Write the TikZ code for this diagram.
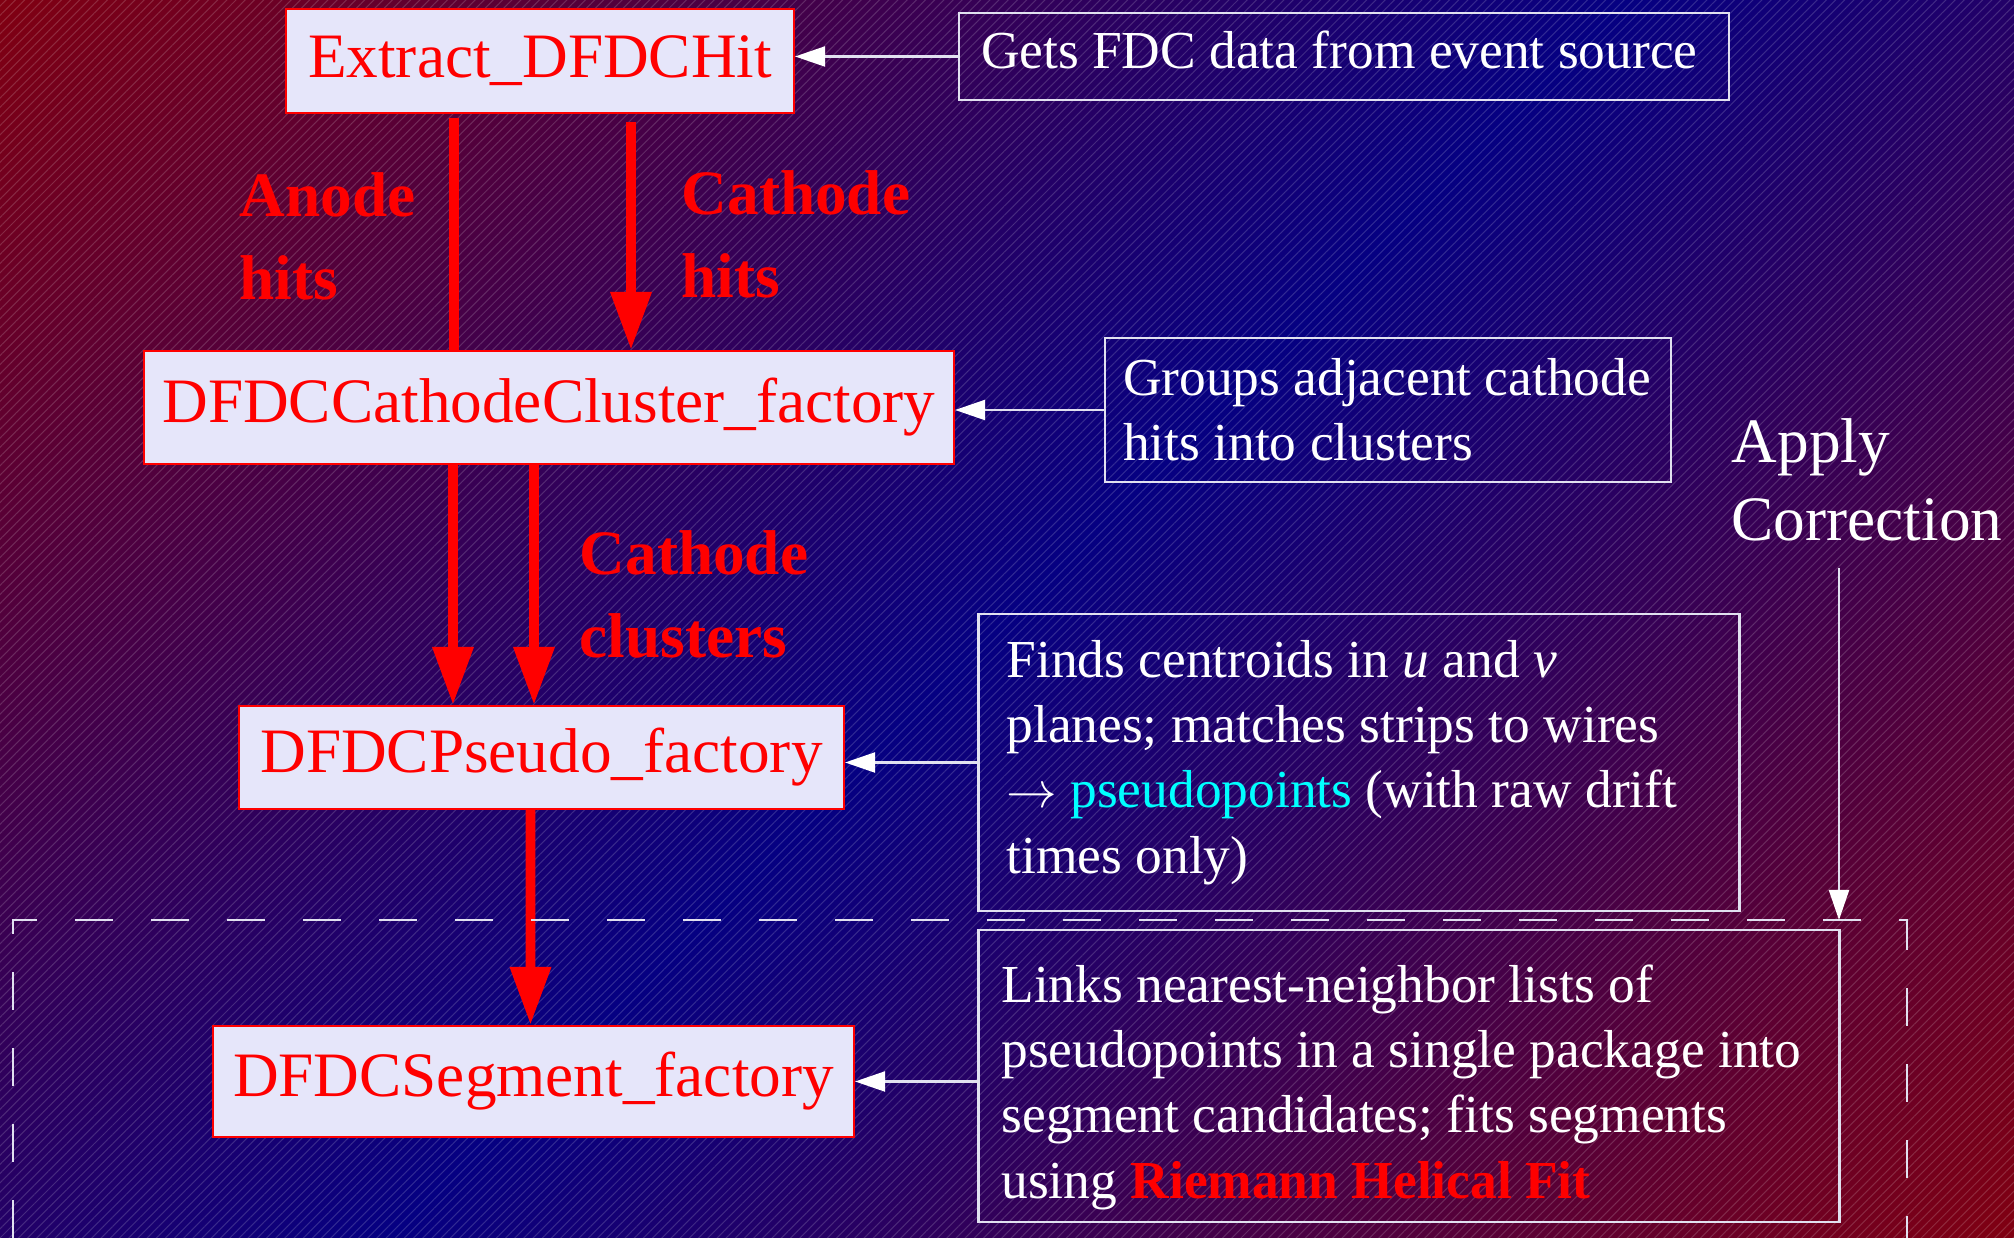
\documentclass[tikz,border=0pt]{standalone}
\usepackage{fontspec}
\setmainfont{Liberation Serif}
\usetikzlibrary{positioning,arrows.meta,patterns.meta}
\definecolor{bgred}{RGB}{128,0,18}
\definecolor{bgblue}{RGB}{5,0,130}
\definecolor{boxfill}{RGB}{230,230,250}
\definecolor{notegray}{RGB}{225,225,240}
\definecolor{pseudocyan}{RGB}{0,255,255}
\pgfdeclarehorizontalshading{bgshade}{100bp}{color(0bp)=(bgred); color(14.6bp)=(bgred);
    color(50bp)=(bgblue); color(85.4bp)=(bgred); color(100bp)=(bgred)}

\begin{document}
\begin{tikzpicture}[
    factory/.style={draw=red,line width=0.6pt,fill=boxfill,text=red,
        font=\fontsize{18}{22}\selectfont,inner sep=0pt},
    note/.style={draw=notegray,line width=0.6pt,text=white,align=flush left,
        font=\fontsize{15.2}{18.6}\selectfont,inner ysep=0pt},
    flowlabel/.style={text=red,font=\bfseries\fontsize{18}{23.6}\selectfont,
        align=left,inner sep=0pt,anchor=north west},
    hitarrow/.style={red,line width=2.8pt,-{Triangle[width=0.39cm,length=0.58cm]}},
    notearrow/.style={notegray,line width=0.6pt,
        -{Triangle[width=0.2cm,length=0.3cm,color=white]}}]
    % fundo
    \useasboundingbox (0,0) rectangle (20.14,12.38);
    \shade[shading=bgshade,shading angle=-45] (0,0) rectangle (20.14,12.38);
    \fill[pattern={Lines[angle=45,distance=0.065cm,line width=0.3pt]},
        pattern color=white,opacity=0.16] (0,0) rectangle (20.14,12.38);
    % factories
    \node[factory,minimum width=5.08cm,minimum height=1.04cm] (extract)
        at (5.40,11.77) {Extract\_DFDCHit};
    \node[factory,minimum width=8.10cm,minimum height=1.13cm] (cluster)
        at (5.49,8.305) {DFDCCathodeCluster\_factory};
    \node[factory,minimum width=6.05cm,minimum height=1.03cm] (pseudo)
        at (5.415,4.805) {DFDCPseudo\_factory};
    \node[factory,minimum width=6.41cm,minimum height=1.11cm] (segment)
        at (5.335,1.565) {DFDCSegment\_factory};
    % notas
    \node[note,text width=7.26cm,inner xsep=0.22cm,minimum height=0.87cm,
        text depth=0.13cm] (gets)
        at (13.44,11.815) {Gets FDC data from event source};
    \node[note,text width=5.30cm,inner xsep=0.18cm,minimum height=1.44cm] (groups)
        at (13.88,8.28) {Groups adjacent cathode\\hits into clusters};
    \node[note,text width=7.05cm,inner xsep=0.28cm,minimum height=2.97cm] (finds)
        at (13.59,4.755) {Finds centroids in \textit{u} and \textit{v}\\
        planes; matches strips to wires\\
        $\rightarrow$ \textcolor{pseudocyan}{pseudopoints} (with raw drift\\
        times only)};
    \node[note,text width=8.15cm,inner xsep=0.23cm,minimum height=2.92cm] (links)
        at (14.09,1.62) {\rule{0pt}{0.6cm}Links nearest-neighbor lists of\\
        pseudopoints in a single package into\\
        segment candidates; fits segments\\
        using \textcolor{red}{\textbf{Riemann Helical Fit}}};
    % rotulos
    \node[flowlabel] (anode) at (2.39,10.66) {Anode\\hits};
    \node[flowlabel] (cathhits) at (6.81,10.68) {Cathode\\hits};
    \node[flowlabel] (cathclus) at (5.79,7.08) {Cathode\\clusters};
    \node[text=white,font=\fontsize{18}{22.2}\selectfont,align=left,inner sep=0pt,
        anchor=north west] (apply) at (17.31,8.20) {Apply\\Correction};
    % setas vermelhas
    \draw[red,line width=2.8pt,shorten <=0.04cm] ([xshift=-0.86cm]extract.south)
        -- ([xshift=-0.95cm]cluster.north);
    \draw[hitarrow,shorten <=0.08cm] ([xshift=0.91cm]extract.south)
        -- ([xshift=0.82cm]cluster.north);
    \draw[hitarrow] ([xshift=-0.96cm]cluster.south) -- ([xshift=-0.885cm]pseudo.north);
    \draw[hitarrow] ([xshift=-0.15cm]cluster.south) -- ([xshift=-0.075cm]pseudo.north);
    \draw[hitarrow] ([xshift=-0.11cm]pseudo.south) -- ([xshift=-0.03cm]segment.north);
    % setas das notas
    \draw[notearrow] (gets.west) -- (gets.west -| extract.east);
    \draw[notearrow] (groups.west) -- (groups.west -| cluster.east);
    \draw[notearrow] (finds.west) -- (finds.west -| pseudo.east);
    \draw[notearrow] (links.west |- segment.east) -- (segment.east);
    % caixa tracejada
    \draw[notegray,line width=0.6pt,dash pattern=on 0.38cm off 0.38cm]
        (0.13,0) -- (0.13,3.18) -- (19.07,3.18) -- (19.07,0);
    \coordinate (applytip) at (18.39,3.18);
    \draw[notearrow,shorten <=0.26cm] (applytip |- apply.south) -- (applytip);
\end{tikzpicture}
\end{document}
